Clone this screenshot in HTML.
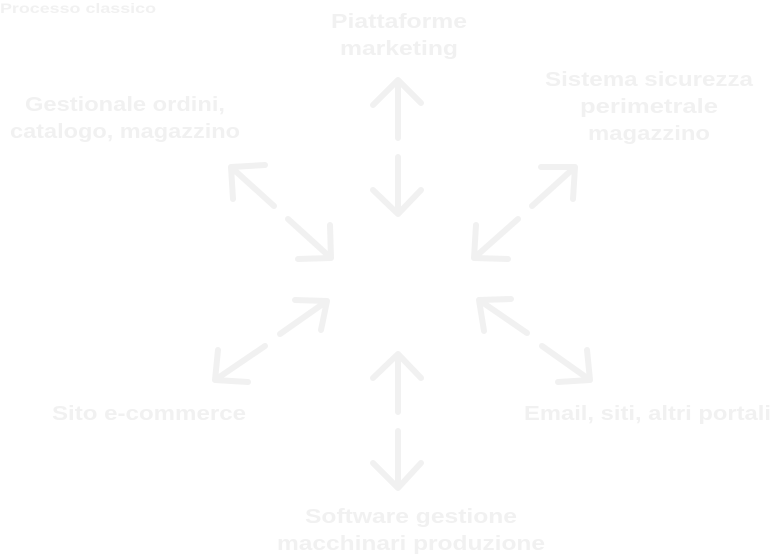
<!DOCTYPE html>
<html><head><style>html,body{margin:0;padding:0;background:#fff}svg{display:block}</style></head>
<body>
<svg width="774" height="556" viewBox="0 0 774 556" xmlns="http://www.w3.org/2000/svg">
<g font-family="Liberation Sans, sans-serif" font-weight="bold" fill="#f1f1f1" font-size="20" lengthAdjust="spacingAndGlyphs">
<text x="0" y="13" font-size="14" textLength="156" lengthAdjust="spacingAndGlyphs">Processo classico</text>
<text x="331" y="28" textLength="136" lengthAdjust="spacingAndGlyphs">Piattaforme</text>
<text x="340" y="55" textLength="118" lengthAdjust="spacingAndGlyphs">marketing</text>
<text x="25" y="111" textLength="200" lengthAdjust="spacingAndGlyphs">Gestionale ordini,</text>
<text x="10" y="138" textLength="230" lengthAdjust="spacingAndGlyphs">catalogo, magazzino</text>
<text x="545" y="86" textLength="208" lengthAdjust="spacingAndGlyphs">Sistema sicurezza</text>
<text x="580" y="113" textLength="138" lengthAdjust="spacingAndGlyphs">perimetrale</text>
<text x="588" y="140" textLength="122" lengthAdjust="spacingAndGlyphs">magazzino</text>
<text x="52" y="420" textLength="194" lengthAdjust="spacingAndGlyphs">Sito e-commerce</text>
<text x="524" y="420" textLength="247" lengthAdjust="spacingAndGlyphs">Email, siti, altri portali</text>
<text x="305" y="523" textLength="212" lengthAdjust="spacingAndGlyphs">Software gestione</text>
<text x="277" y="550" textLength="268" lengthAdjust="spacingAndGlyphs">macchinari produzione</text>
</g>
<g stroke="#f1f1f1" stroke-width="6" stroke-linecap="round" stroke-linejoin="round" fill="none">
<!-- top -->
<path d="M398 80 V138 M373 105 L398 80 L421 103"/>
<path d="M398 157 V214 M373 190 L398 214 L421 190"/>
<!-- top-left -->
<path d="M231 167 L274 206 M265 165 L231 167 L233 199"/>
<path d="M288 219 L331 258 M330 225 L331 258 L298 259"/>
<!-- top-right -->
<path d="M575 167 L532 206 M541 167 L575 167 L573 199"/>
<path d="M518 219 L474 258 M476 225 L474 258 L508 259"/>
<!-- bottom-left -->
<path d="M327 301 L280 334 M295 300 L327 301 L321 330"/>
<path d="M265 346 L215 380 M218 350 L215 380 L248 382"/>
<!-- bottom-right -->
<path d="M479 300 L527 333 M511 299 L479 300 L484 331"/>
<path d="M542 346 L590 380 M587 350 L590 380 L558 382"/>
<!-- bottom -->
<path d="M398 354 V412 M373 378 L398 354 L421 378"/>
<path d="M398 431 V488 M373 463 L398 488 L421 463"/>
</g>
</svg>
</body></html>
